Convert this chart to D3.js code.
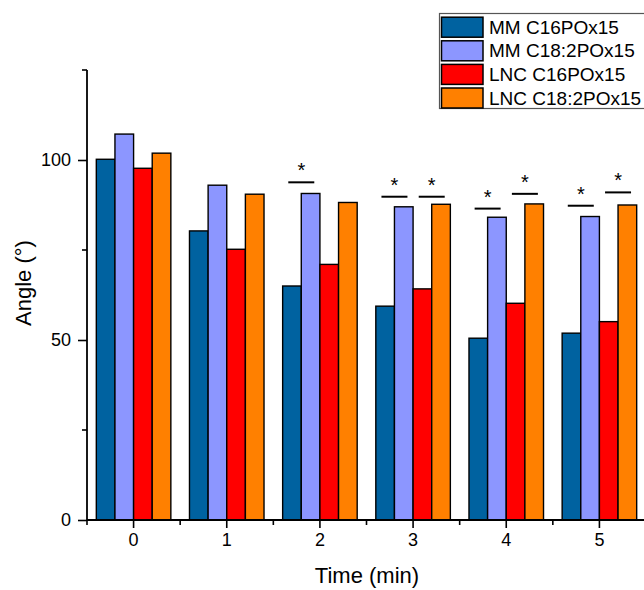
<!DOCTYPE html>
<html>
<head>
<meta charset="utf-8">
<script src="https://cdn.jsdelivr.net/npm/d3@7"></script>
<style>
  body { margin: 0; background: #fff; }
  svg { display: block; font-family: "Liberation Sans", Arial, sans-serif; }
</style>
</head>
<body>
<svg id="chart" width="644" height="590"></svg>
<script>
// ---- data ----
const times = ["0", "1", "2", "3", "4", "5"];
const seriesNames = ["MM C16POx15", "MM C18:2POx15", "LNC C16POx15", "LNC C18:2POx15"];
const seriesColors = ["#0062a0", "#8c96ff", "#ff0000", "#ff8000"];
const mm16  = [100.2, 80.3, 65.0, 59.4, 50.5, 51.9];
const mm18  = [107.2, 93.0, 90.7, 87.0, 84.1, 84.3];
const lnc16 = [97.7, 75.2, 71.0, 64.2, 60.2, 55.1];
const lnc18 = [101.9, 90.5, 88.2, 87.7, 87.8, 87.5];
const seriesValues = [mm16, mm18, lnc16, lnc18];
const yMajorTicks = [0, 50, 100];
const yMinorTicks = [25, 75, 125];
// significance markers: time index, left series of pair, bracket level (value)
const sigTime  = [2, 3, 3, 4, 4, 5, 5];
const sigLeft  = [0, 0, 2, 0, 2, 0, 2];
const sigLevel = [93.8, 89.8, 89.8, 86.5, 90.6, 87.3, 91.0];

// ---- layout ----
const svg = d3.select("#chart");
const x0 = d3.scaleBand().domain(times).range([87, 646]).paddingInner(0).paddingOuter(0);
const x1 = d3.scaleBand().domain(d3.range(4)).range([x0.bandwidth() * 0.1, x0.bandwidth() * 0.9]);
const y = d3.scaleLinear().domain([0, 125]).range([520, 70]);

const rows = [];
times.forEach((t, i) => seriesValues.forEach((vals, s) => rows.push({ t, s, v: vals[i] })));

// bars
svg.append("g").selectAll("rect").data(rows).join("rect")
  .attr("x", d => x0(d.t) + x1(d.s))
  .attr("y", d => y(d.v))
  .attr("width", x1.bandwidth())
  .attr("height", d => y(0) - y(d.v))
  .attr("fill", d => seriesColors[d.s])
  .attr("stroke", "#000")
  .attr("stroke-width", 1.4);

// significance brackets
const sig = sigTime.map((t, i) => ({ t: times[t], left: sigLeft[i], level: sigLevel[i] }));
const gs = svg.append("g");
gs.selectAll("line").data(sig).join("line")
  .attr("x1", d => x0(d.t) + x1(d.left + 1) - 13)
  .attr("x2", d => x0(d.t) + x1(d.left + 1) + 13)
  .attr("y1", d => y(d.level))
  .attr("y2", d => y(d.level))
  .attr("stroke", "#000")
  .attr("stroke-width", 2);
gs.selectAll("text").data(sig).join("text")
  .attr("x", d => x0(d.t) + x1(d.left + 1))
  .attr("y", d => y(d.level) - 5)
  .attr("text-anchor", "middle")
  .attr("font-size", 20)
  .text("*");

// y axis
const yAxis = svg.append("g").attr("transform", "translate(87,0)");
yAxis.call(d3.axisLeft(y).tickValues(yMajorTicks).tickSize(9).tickPadding(7).tickFormat(d3.format("d")));
yAxis.selectAll(".tick text").attr("font-size", 18).attr("fill", "#000").attr("font-family", "Liberation Sans, Arial, sans-serif");
yAxis.select(".domain").attr("d", `M0,${y(125)}V${y(0)}`).attr("stroke-width", 1.8);
yAxis.selectAll(".tick line").attr("stroke-width", 1.6);
yAxis.selectAll(".minor").data(yMinorTicks).join("line")
  .attr("class", "minor")
  .attr("x1", -5).attr("x2", 0)
  .attr("y1", d => y(d)).attr("y2", d => y(d))
  .attr("stroke", "#000").attr("stroke-width", 1.6);

// x axis
const xAxis = svg.append("g").attr("transform", "translate(0,520)");
xAxis.call(d3.axisBottom(x0).tickSize(8).tickPadding(18));
xAxis.selectAll(".tick text").attr("font-size", 18).attr("fill", "#000").attr("dy", "0").attr("font-family", "Liberation Sans, Arial, sans-serif");
xAxis.select(".domain").attr("d", "M87,0H646").attr("stroke-width", 1.8);
xAxis.selectAll(".tick line").attr("stroke-width", 1.6);
xAxis.selectAll(".minor").data(times.concat(["end"])).join("line")
  .attr("class", "minor")
  .attr("x1", d => d === "end" ? 646 : x0(d)).attr("x2", d => d === "end" ? 646 : x0(d))
  .attr("y1", 0).attr("y2", 5)
  .attr("stroke", "#000").attr("stroke-width", 1.6);

// axis titles
svg.append("text")
  .attr("x", 367).attr("y", 583)
  .attr("text-anchor", "middle")
  .attr("font-size", 22)
  .text("Time (min)");
svg.append("text")
  .attr("transform", "translate(31,283) rotate(-90)")
  .attr("text-anchor", "middle")
  .attr("font-size", 22)
  .text("Angle (°)");

// legend
const lg = svg.append("g");
lg.append("rect")
  .attr("x", 439.5).attr("y", 13.5).attr("width", 230).attr("height", 95)
  .attr("fill", "#fff").attr("stroke", "#555").attr("stroke-width", 1.2);
const items = lg.selectAll("g.item").data(seriesNames).join("g")
  .attr("class", "item")
  .attr("transform", (d, i) => `translate(0,${16.7 + i * 23.6})`);
items.append("rect")
  .attr("x", 441.5).attr("y", 0.5).attr("width", 41.5).attr("height", 20)
  .attr("fill", (d, i) => seriesColors[i])
  .attr("stroke", "#000").attr("stroke-width", 1.5);
items.append("text")
  .attr("x", 489).attr("y", 17)
  .attr("font-size", 19)
  .text(d => d);
</script>
</body>
</html>
